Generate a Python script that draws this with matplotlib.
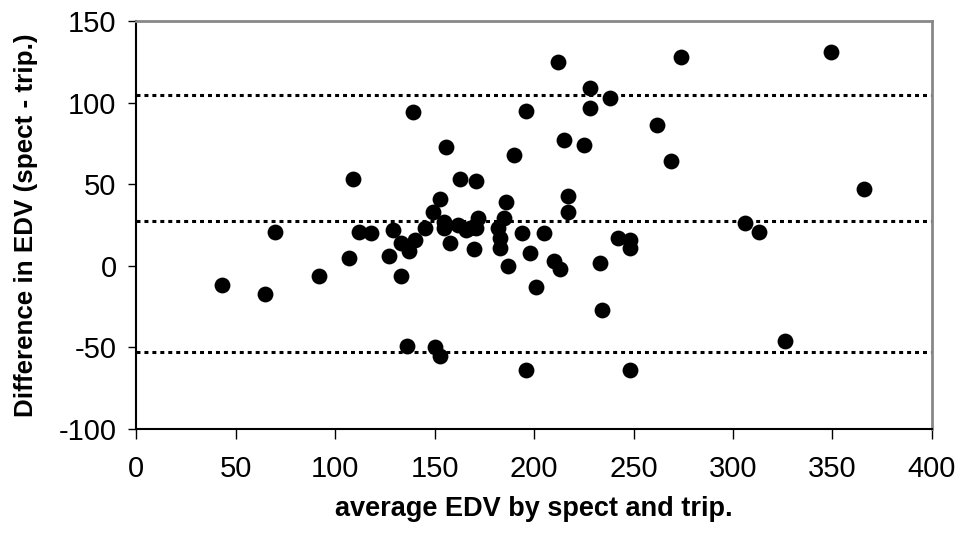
import matplotlib
matplotlib.use("Agg")
import matplotlib.pyplot as plt

plt.rcParams['font.family'] = ['Liberation Sans', 'DejaVu Sans']
plt.rcParams['axes.unicode_minus'] = False

# average EDV (x) and difference spect - trip. (y)
avg_edv = [43, 65, 70, 92, 107, 109, 112, 118, 127, 129, 133, 133, 136, 137,
           139, 140, 145, 149, 150, 153, 153, 155, 155, 156, 158, 162, 163,
           166, 168, 170, 171, 171, 172, 182, 183, 183, 185, 186, 187, 190,
           194, 196, 196, 198, 201, 205, 210, 212, 213, 215, 217, 217, 225,
           228, 228, 233, 234, 238, 242, 248, 248, 248, 262, 269, 274, 306,
           313, 326, 349, 366]
diff_edv = [-12, -17, 21, -6, 5, 53, 21, 20, 6, 22, -6, 14, -49, 9,
            94, 16, 23, 33, -50, 41, -55, 27, 23, 73, 14, 25, 53,
            22, 23, 10, 52, 23, 29, 23, 17, 11, 29, 39, 0, 68,
            20, 95, -64, 8, -13, 20, 3, 125, -2, 77, 43, 33, 74,
            109, 97, 2, -27, 103, 17, 16, 11, -64, 86, 64, 128, 26,
            21, -46, 131, 47]

upper_loa = 104.5
mean_diff = 27.5
lower_loa = -53

fig = plt.figure(figsize=(9.62, 5.56), dpi=100)
ax = fig.add_axes([0.1414, 0.2284, 0.8274, 0.7338])

ax.scatter(avg_edv, diff_edv, s=130, color='black', zorder=3, linewidths=0)

for level in [upper_loa, mean_diff, lower_loa]:
    ax.axhline(level, color='black', lw=2.2, linestyle=(0, (1.3, 1.3)), zorder=2)

ax.set_xlim(0, 400)
ax.set_ylim(-100, 150)
ax.set_xticks(range(0, 401, 50))
ax.set_yticks(range(-100, 151, 50))
ax.tick_params(direction='out', length=6, width=1, labelsize=21, pad=8)
ax.tick_params(axis='x', length=7, pad=12)

for side in ['left', 'bottom']:
    ax.spines[side].set_color('black')
    ax.spines[side].set_linewidth(1.5)
for side in ['top', 'right']:
    ax.spines[side].set_color('#888888')
    ax.spines[side].set_linewidth(2)

ax.set_xlabel("average EDV by spect and trip.", fontsize=19.5, fontweight='bold')
ax.xaxis.set_label_coords(0.5, -0.196)
ax.xaxis.label.set_va('center')
ax.set_ylabel("Difference in EDV (spect - trip.)", fontsize=18.7, fontweight='bold')
ax.yaxis.set_label_coords(-0.138, 0.5)
ax.yaxis.label.set_va('center')

fig.savefig("out.png", dpi=100)
